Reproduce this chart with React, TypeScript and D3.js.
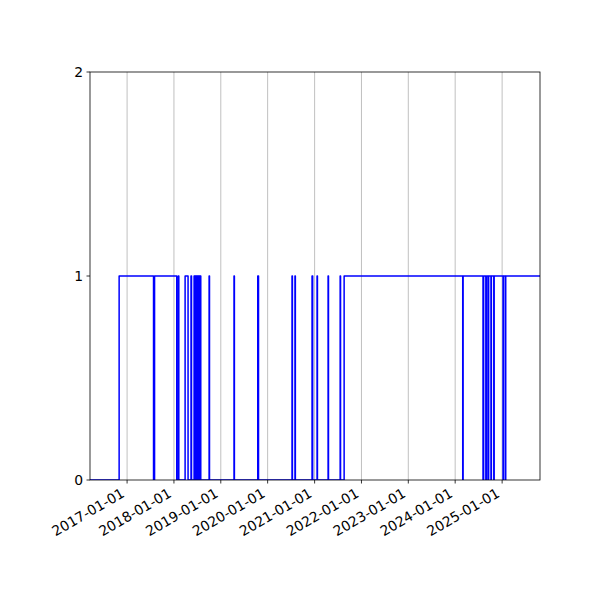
import * as React from 'react'
import * as d3 from 'd3'

// change points of the 0/1 signal (value holds until the next date)
const changeDates = [
	'2016-03-18', '2016-10-31',
	'2017-07-26', '2017-08-03',
	'2018-01-23', '2018-02-04', '2018-02-08',
	'2018-03-29', '2018-04-21', '2018-05-14', '2018-05-18',
	'2018-06-07', '2018-06-12', '2018-06-15', '2018-06-20', '2018-06-23', '2018-06-28',
	'2018-07-01', '2018-07-06', '2018-07-09', '2018-07-14', '2018-07-17', '2018-07-22',
	'2018-07-25', '2018-07-29',
	'2018-10-02', '2018-10-05',
	'2019-04-14', '2019-04-17',
	'2019-10-16', '2019-10-22',
	'2020-07-09', '2020-07-12', '2020-08-01', '2020-08-04',
	'2020-12-12', '2020-12-17',
	'2021-01-20', '2021-01-23', '2021-04-16', '2021-04-19', '2021-07-19', '2021-07-22',
	'2021-08-19',
	'2024-02-29', '2024-03-03',
	'2024-08-05', '2024-08-10', '2024-08-27', '2024-09-01', '2024-09-14', '2024-09-18',
	'2024-10-06', '2024-10-09', '2024-10-28', '2024-10-31',
	'2025-01-08', '2025-01-11', '2025-01-26', '2025-01-29',
	'2025-10-23',
]
const changeValues = [
	0, 1,
	0, 1,
	0, 1, 0,
	1, 0, 1, 0,
	1, 0, 1, 0, 1, 0,
	1, 0, 1, 0, 1, 0,
	1, 0,
	1, 0,
	1, 0,
	1, 0,
	1, 0, 1, 0,
	1, 0,
	1, 0, 1, 0, 1, 0,
	1,
	0, 1,
	0, 1, 0, 1, 0, 1,
	0, 1, 0, 1,
	0, 1, 0, 1,
	1,
]
const xTickDates = ['2017-01-01', '2018-01-01', '2019-01-01', '2020-01-01', '2021-01-01',
	'2022-01-01', '2023-01-01', '2024-01-01', '2025-01-01']
const yTicks = [0, 1, 2]

const parse = d3.timeParse('%Y-%m-%d')
const fmt = d3.timeFormat('%Y-%m-%d')

export default function App() {
	const dims = { width: 600, height: 600, left: 90, right: 540, top: 72, bottom: 480 }
	const points = changeDates.map((d, i) => ({ date: parse(d)!, value: changeValues[i] }))

	const x = d3.scaleTime()
		.domain([points[0].date, points[points.length - 1].date])
		.range([dims.left, dims.right])
	const y = d3.scaleLinear()
		.domain([0, 2])
		.range([dims.bottom, dims.top])

	const line = d3.line<{ date: Date, value: number }>()
		.x(d => x(d.date))
		.y(d => y(d.value))
		.curve(d3.curveStepAfter)

	const font = 'DejaVu Sans'
	const fs = 13.9
	const a = Math.PI / 6

	return (
		<svg width={dims.width} height={dims.height}
			style={{ position: 'absolute', left: 0, top: 0, background: 'white' }}>
			<defs>
				<clipPath id="plot">
					<rect x={dims.left} y={dims.top} width={dims.right - dims.left} height={dims.bottom - dims.top} />
				</clipPath>
			</defs>
			{/* vertical grid */}
			{xTickDates.map(t => (
				<line key={'g' + t} x1={x(parse(t)!)} x2={x(parse(t)!)} y1={dims.top} y2={dims.bottom}
					stroke="#b0b0b0" strokeWidth={0.8} />
			))}
			<path d={line(points) || ''} fill="none" stroke="#0000ff" strokeWidth={1.5}
				strokeLinejoin="round" clipPath="url(#plot)" />
			{/* spines */}
			<rect x={dims.left} y={dims.top} width={dims.right - dims.left} height={dims.bottom - dims.top}
				fill="none" stroke="black" strokeWidth={0.8} />
			{/* x ticks */}
			{xTickDates.map(t => {
				const px = x(parse(t)!)
				return (
					<g key={'x' + t}>
						<line x1={px} x2={px} y1={dims.bottom} y2={dims.bottom + 3.5} stroke="black" strokeWidth={0.8} />
						<text x={0} y={0} fontFamily={font} fontSize={fs} textAnchor="end"
							transform={`translate(${px - 3.2 * Math.sin(a)}, ${487 + 10.6 * Math.cos(a)}) rotate(-30)`}>
							{fmt(parse(t)!)}
						</text>
					</g>
				)
			})}
			{/* y ticks */}
			{yTicks.map(t => (
				<g key={'y' + t}>
					<line x1={dims.left - 3.5} x2={dims.left} y1={y(t)} y2={y(t)} stroke="black" strokeWidth={0.8} />
					<text x={dims.left - 7} y={y(t)} dy="0.36em" fontFamily={font} fontSize={fs} textAnchor="end">{t}</text>
				</g>
			))}
		</svg>
	)
}
